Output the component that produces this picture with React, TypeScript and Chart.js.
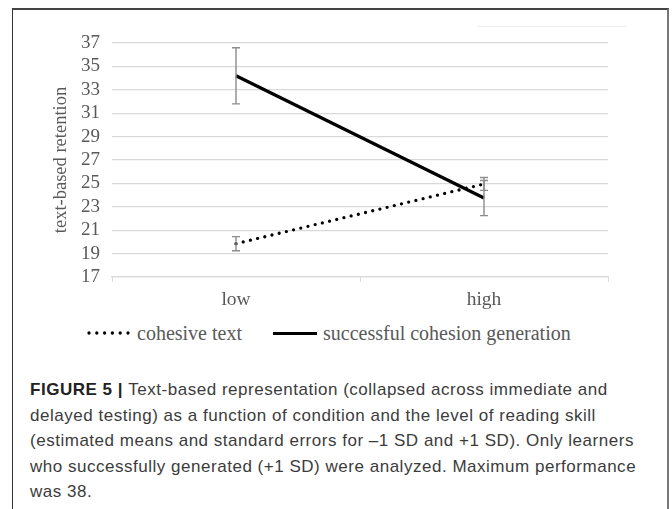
import React, { useEffect, useRef } from "react";
import { Chart, registerables } from "chart.js";

Chart.register(...registerables);

// ---- data ----
const categories = ["low", "high"];
const seriesNames = ["cohesive text", "successful cohesion generation"];
const cohesiveText = [19.85, 24.95];
const cohesiveTextErr = [0.6, 0.55];
const cohesionGeneration = [34.2, 23.75];
const cohesionGenerationErr = [2.4, 1.5];
const yMin = 17;
const yMax = 37;
const yStep = 2;
const yTitle = "text-based retention";
const captionBold = "FIGURE 5 | ";
const captionLines = [
  "Text-based representation (collapsed across immediate and",
  "delayed testing) as a function of condition and the level of reading skill",
  "(estimated means and standard errors for \u20131 SD and +1 SD). Only learners",
  "who successfully generated (+1 SD) were analyzed. Maximum performance",
  "was 38.",
];

const SERIF = "'Liberation Serif', 'Times New Roman', serif";
const SANS = "'Liberation Sans', Arial, sans-serif";
const GREY = "#595959";

const errorBarPlugin = {
  id: "errorBars",
  afterDatasetsDraw(chart: any) {
    const ctx = chart.ctx;
    const yScale = chart.scales.y;
    chart.data.datasets.forEach((ds: any, i: number) => {
      const meta = chart.getDatasetMeta(i);
      meta.data.forEach((pt: any, j: number) => {
        const v = ds.data[j];
        const e = ds.errors[j];
        const top = yScale.getPixelForValue(v + e);
        const bot = yScale.getPixelForValue(v - e);
        const x = pt.x;
        ctx.save();
        ctx.strokeStyle = "#8c8c8c";
        ctx.lineWidth = 1.4;
        ctx.beginPath();
        ctx.moveTo(x, top);
        ctx.lineTo(x, bot);
        ctx.moveTo(x - 4, top);
        ctx.lineTo(x + 4, top);
        ctx.moveTo(x - 4, bot);
        ctx.lineTo(x + 4, bot);
        ctx.stroke();
        ctx.restore();
      });
    });
  },
};

export default function App() {
  const canvasRef = useRef<HTMLCanvasElement | null>(null);

  useEffect(() => {
    if (!canvasRef.current) return;
    const chart = new Chart(canvasRef.current, {
      type: "line",
      data: {
        labels: categories,
        datasets: [
          {
            label: seriesNames[0],
            data: cohesiveText,
            errors: cohesiveTextErr,
            borderColor: "#000000",
            borderWidth: 3.3,
            borderDash: [0, 7.4],
            borderCapStyle: "round",
            pointRadius: 0,
            fill: false,
            tension: 0,
          } as any,
          {
            label: seriesNames[1],
            data: cohesionGeneration,
            errors: cohesionGenerationErr,
            borderColor: "#000000",
            borderWidth: 3.2,
            pointRadius: 0,
            fill: false,
            tension: 0,
          } as any,
        ],
      },
      options: {
        animation: false,
        responsive: true,
        maintainAspectRatio: false,
        layout: { padding: { left: 32, top: 33, right: 60, bottom: 0 } },
        plugins: {
          legend: { display: false },
          tooltip: { enabled: false },
          title: { display: false },
        },
        scales: {
          x: {
            type: "category",
            offset: true,
            grid: {
              offset: true,
              drawOnChartArea: false,
              drawTicks: true,
              tickLength: 5,
              color: "#d9d9d9",
              lineWidth: 1,
            },
            border: { display: true, color: "#d9d9d9", width: 1.3 },
            ticks: {
              font: { family: SERIF, size: 19.5 },
              color: GREY,
              padding: 6,
            },
            afterFit: (s: any) => {
              s.height = 40;
            },
          },
          y: {
            min: yMin,
            max: yMax,
            ticks: {
              stepSize: yStep,
              autoSkip: false,
              font: { family: SERIF, size: 19 },
              color: GREY,
              padding: 12,
            },
            grid: { color: "#d9d9d9", drawTicks: false, lineWidth: 1.3 },
            border: { display: false },
            title: {
              display: true,
              text: yTitle,
              font: { family: SERIF, size: 18.5 },
              color: GREY,
              padding: { top: 4, bottom: 4 },
            },
            afterFit: (s: any) => {
              s.width = 66;
            },
          },
        },
      } as any,
      plugins: [errorBarPlugin],
    });
    return () => chart.destroy();
  }, []);

  return (
    <div
      style={{
        position: "fixed",
        left: 0,
        top: 0,
        width: 672,
        height: 509,
        overflow: "hidden",
        background: "#ffffff",
      }}
    >
      <div
        style={{
          position: "absolute",
          left: 12,
          top: 8,
          width: 657,
          height: 540,
          boxSizing: "border-box",
          borderTop: "2px solid #444",
          borderLeft: "1.5px solid #333",
          borderRight: "2px solid #777",
        }}
      />
      <div
        style={{
          position: "absolute",
          left: 477,
          top: 26,
          width: 150,
          height: 0,
          borderTop: "1px solid #efefef",
        }}
      />
      <div style={{ position: "absolute", left: 14, top: 10, width: 654, height: 307 }}>
        <canvas ref={canvasRef} />
      </div>
      {/* legend */}
      <svg
        style={{ position: "absolute", left: 87, top: 328 }}
        width={44}
        height={10}
      >
        <line
          x1={2}
          y1={5}
          x2={42}
          y2={5}
          stroke="#000"
          strokeWidth={3.3}
          strokeLinecap="round"
          strokeDasharray="0 7.8"
        />
      </svg>
      <div
        style={{
          position: "absolute",
          left: 137,
          top: 321,
          height: 24,
          lineHeight: "24px",
          fontFamily: SERIF,
          fontSize: 20,
          color: GREY,
          whiteSpace: "nowrap",
        }}
      >
        {seriesNames[0]}
      </div>
      <div
        style={{
          position: "absolute",
          left: 273,
          top: 331.5,
          width: 44,
          height: 3,
          background: "#000",
        }}
      />
      <div
        style={{
          position: "absolute",
          left: 323,
          top: 321,
          height: 24,
          lineHeight: "24px",
          fontFamily: SERIF,
          fontSize: 20,
          color: GREY,
          whiteSpace: "nowrap",
        }}
      >
        {seriesNames[1]}
      </div>
      {/* caption */}
      <div
        style={{
          position: "absolute",
          left: 30,
          top: 377,
          fontFamily: SANS,
          fontSize: 17,
          letterSpacing: "0.52px",
          lineHeight: "25.5px",
          color: "#3c3c3c",
          whiteSpace: "pre",
        }}
      >
        {captionLines.map((line, i) => (
          <div key={i}>
            {i === 0 && (
              <span style={{ fontWeight: 700, color: "#222" }}>{captionBold}</span>
            )}
            {line}
          </div>
        ))}
      </div>
    </div>
  );
}
